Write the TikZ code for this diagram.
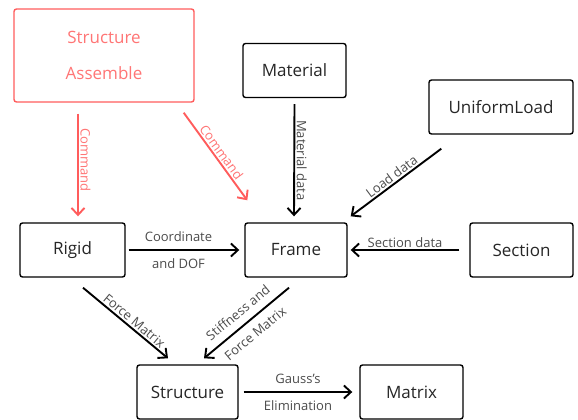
\documentclass[tikz,border=0pt]{standalone}
\usepackage{fontspec}
\setmainfont{Open Sans}
\usetikzlibrary{arrows.meta}
\usepackage{xcolor}
\definecolor{cmdred}{RGB}{255,92,92}
\definecolor{lblgrey}{RGB}{75,75,75}

\begin{document}
\begin{tikzpicture}[x=1pt,y=-1pt,
        box/.style={draw, rectangle, rounded corners=2.5pt, line width=1.4pt, minimum width=#1, minimum height=54pt, inner sep=0pt, text=black!85, font=\fontsize{17}{20}\selectfont},
        box/.default=103pt,
        lbl/.style={font=\fontsize{13}{15}\selectfont, text=lblgrey, inner sep=1.5pt},
        lbltwo/.style={lbl, align=center, font=\fontsize{13}{27}\selectfont},
        arr/.style={-{Straight Barb[length=7pt,width=13pt]}, line width=1.9pt}]
            \useasboundingbox (0,0) rectangle (578,420);

            \node[box=180pt, minimum height=93pt, draw=cmdred, text=cmdred!85, align=center, font=\fontsize{17}{36}\selectfont] (assemble) at (104,55.5) {Structure\\Assemble};
            \node[box] (material) at (294.5,70.5) {Material};
            \node[box=144pt] (uniform) at (501,107) {UniformLoad};
            \node[box=105pt] (rigid) at (72.5,250) {Rigid};
            \node[box=102pt] (frame) at (296,250) {Frame};
            \node[box] (section) at (521.5,250) {Section};
            \node[box=101pt] (structure) at (187.5,392) {Structure};
            \node[box] (matrix) at (411.5,392) {Matrix};

            \draw[arr, cmdred] ([shift={(-26,11)}]assemble.south) -- node[lbl, text=cmdred!85, rotate=-90, above, pos=0.45] {Command} ([shift={(5.5,-6)}]rigid.north);
            \draw[arr, cmdred] ([shift={(-11,10)}]assemble.south east) -- node[lbl, text=cmdred!85, sloped, above] {Command} ([shift={(3,-22)}]frame.north west);
            \draw[arr] ([shift={(0,6)}]material.south) -- node[lbl, rotate=-90, above] {Material data} ([shift={(-2,-6)}]frame.north);
            \draw[arr] ([shift={(13,14)}]uniform.south west) -- node[lbl, sloped, above] {Load data} ([shift={(3,-6)}]frame.north east);
            \draw[arr] ([xshift=-10pt]section.west) -- node[lbl, above] {Section data} ([xshift=3pt]frame.east);
            \draw[arr] ([xshift=3pt]rigid.east) -- node[lbltwo, pos=0.45] {Coordinate\\and DOF} ([xshift=-5pt]frame.west);
            \draw[arr] ([shift={(10.5,10)}]rigid.south) -- node[lbl, sloped, above, pos=0.55] {Force Matrix} ([shift={(-19.5,-6)}]structure.north);
            \draw[arr] ([shift={(-7,10)}]frame.south) -- node[lbltwo, sloped] {Stiffness and\\Force Matrix} ([shift={(16.5,-6)}]structure.north);
            \draw[arr] ([xshift=5pt]structure.east) -- node[lbltwo] {Gauss's\\Elimination} ([xshift=-7pt]matrix.west);
        \end{tikzpicture}
\end{document}
